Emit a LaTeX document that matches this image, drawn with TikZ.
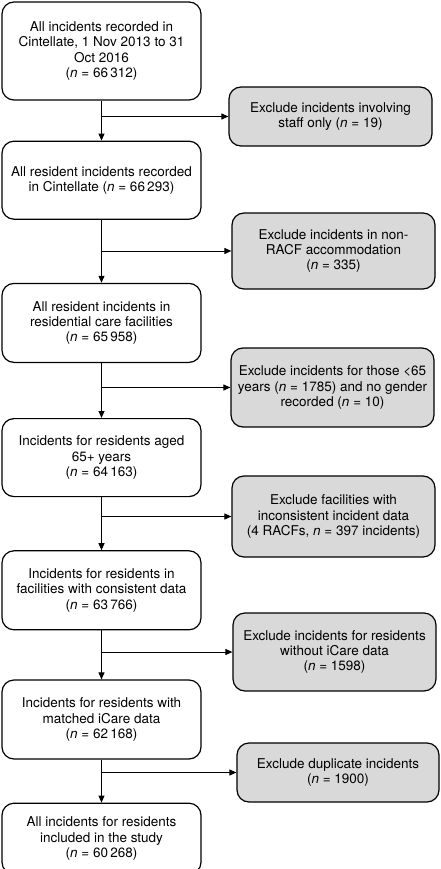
\documentclass[tikz,border=0pt]{standalone}
\usepackage{fontspec}
\setmainfont{TeX Gyre Heros}
\usetikzlibrary{arrows.meta, positioning}

\begin{document}
\begin{tikzpicture}[x=1pt, y=-1pt, >={Triangle[length=7pt, width=6pt]},
  inc/.style={draw, line width=1.2pt, rounded corners=12pt, align=center, font=\fontsize{13.5}{15.3}\selectfont, minimum width=199pt, inner sep=2pt},
  exc/.style={inc, fill=black!15, minimum width=203pt},
  flow/.style={->, line width=1pt}]
  \useasboundingbox (0,0) rectangle (441,869);
  \node[inc, minimum height=98pt] (inc1) at (101.5,51) {All incidents recorded in\\Cintellate, 1 Nov 2013 to 31\\Oct 2016\\(\textit{n} = 66\,312)};
  \node[inc, minimum height=78pt, below=40pt of inc1] (inc2) {All resident incidents recorded\\in Cintellate (\textit{n} = 66\,293)};
  \node[inc, minimum height=79pt, below=63pt of inc2] (inc3) {All resident incidents in\\residential care facilities\\(\textit{n} = 65\,958)};
  \node[inc, minimum height=78pt, below=55pt of inc3] (inc4) {Incidents for residents aged\\65+ years\\(\textit{n} = 64\,163)};
  \node[inc, minimum height=79pt, below=53pt of inc4] (inc5) {Incidents for residents in\\facilities with consistent data\\(\textit{n} = 63\,766)};
  \node[inc, minimum height=79pt, below=49pt of inc5] (inc6) {Incidents for residents with\\matched iCare data\\(\textit{n} = 62\,168)};
  \node[inc, minimum height=71pt, below=43pt of inc6] (inc7) {All incidents for residents\\included in the study\\(\textit{n} = 60\,268)};
  % exclusions
  \node[exc, minimum height=59pt] (exc1) at (330.5,116.5) {Exclude incidents involving\\staff only (\textit{n} = 19)};
  \node[exc, minimum height=76pt] (exc2) at (333.5,251) {Exclude incidents in non-\\RACF accommodation\\(\textit{n} = 335)};
  \node[exc, minimum height=79pt] (exc3) at (332.5,387.5) {Exclude incidents for those <65\\years (\textit{n} = 1785) and no gender\\recorded (\textit{n} = 10)};
  \node[exc, minimum height=81pt] (exc4) at (333.5,516.5) {Exclude facilities with\\inconsistent incident data\\(4 RACFs, \textit{n} = 397 incidents)};
  \node[exc, minimum height=78pt] (exc5) at (334.5,652) {Exclude incidents for residents\\without iCare data\\(\textit{n} = 1598)};
  \node[exc, minimum height=59pt, minimum width=202pt] (exc6) at (338,772.5) {Exclude duplicate incidents\\(\textit{n} = 1900)};
  \draw[flow] (inc1) -- (inc2);
  \draw[flow] (inc2) -- (inc3);
  \draw[flow] (inc3) -- (inc4);
  \draw[flow] (inc4) -- (inc5);
  \draw[flow] (inc5) -- (inc6);
  \draw[flow] (inc6) -- (inc7);
  \draw[flow] (inc1.south |- exc1.west) -- (exc1.west);
  \draw[flow] (inc2.south |- exc2.west) -- (exc2.west);
  \draw[flow] (inc3.south |- exc3.west) -- (exc3.west);
  \draw[flow] (inc4.south |- exc4.west) -- (exc4.west);
  \draw[flow] (inc5.south |- exc5.west) -- (exc5.west);
  \draw[flow] (inc6.south |- exc6.west) -- (exc6.west);
\end{tikzpicture}
\end{document}
